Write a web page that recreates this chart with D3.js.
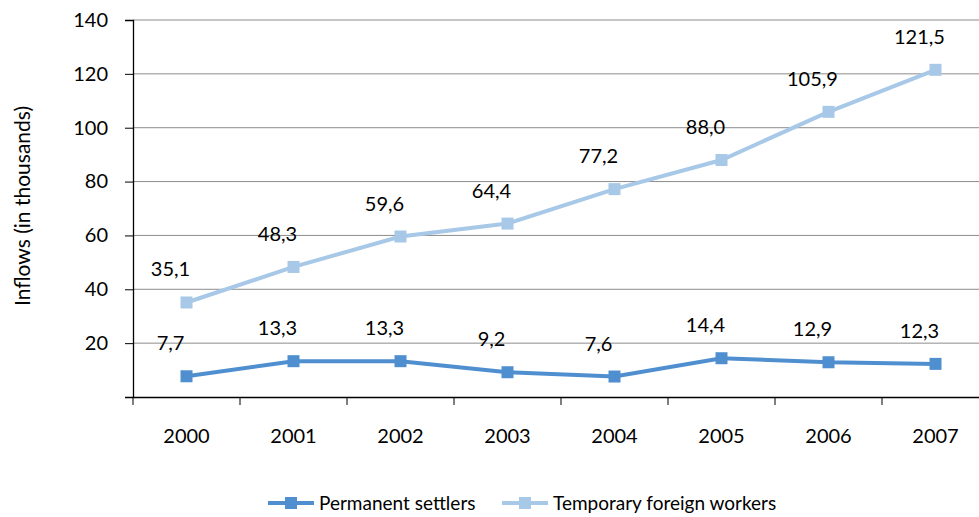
<!DOCTYPE html>
<html><head><meta charset="utf-8">
<script src="https://cdn.jsdelivr.net/npm/d3@7"></script>
<style>body{margin:0;background:#fff}svg{display:block;font-family:Lato,"Open Sans",sans-serif}</style>
</head><body><svg id="c" width="979" height="517"></svg>
<script>
const years = ["2000","2001","2002","2003","2004","2005","2006","2007"];
const permanent = [7.7,13.3,13.3,9.2,7.6,14.4,12.9,12.3];
const temporary = [35.1,48.3,59.6,64.4,77.2,88.0,105.9,121.5];
const yTicks = [0,20,40,60,80,100,120,140];
const seriesNames = ["Permanent settlers","Temporary foreign workers"];
const colors = ["#4F8FD0","#A8C8E8"];

(function(){
const svg = d3.select("#c");
const pL=133, pR=989, pT=20, pB=397;
const x = d3.scaleBand().domain(years).range([pL,pR]);
const y = d3.scaleLinear().domain([0,140]).range([pB,pT]);
const fmt = v => v.toFixed(1).replace(".",",");

// gridlines
svg.append("g").selectAll("line").data(yTicks.filter(d=>d>0)).join("line")
  .attr("x1",pL).attr("x2",979).attr("y1",d=>y(d)).attr("y2",d=>y(d))
  .attr("stroke","#8c8c8c").attr("stroke-width",1);

// y axis
const ya = svg.append("g").attr("transform",`translate(${pL},0)`)
  .call(d3.axisLeft(y).tickValues(yTicks).tickSize(8).tickPadding(17).tickFormat(d=>d===0?"":d));
ya.select(".domain").attr("stroke","#000").attr("stroke-width",1.3);
ya.selectAll(".tick line").attr("stroke","#000");
ya.selectAll("text").attr("font-size",20).attr("fill","#000").attr("font-family","Lato,sans-serif");

// x axis
const xa = svg.append("g").attr("transform",`translate(0,${pB})`)
  .call(d3.axisBottom(x).tickSize(0).tickPadding(32));
xa.select(".domain").attr("stroke","#000").attr("stroke-width",1.3);
xa.selectAll("text").attr("font-size",20).attr("fill","#000").attr("font-family","Lato,sans-serif");
const bounds = years.map(d=>x(d)).concat([pR]);
svg.append("g").selectAll("line").data(bounds).join("line")
  .attr("x1",d=>d).attr("x2",d=>d).attr("y1",pB).attr("y2",pB+8)
  .attr("stroke","#000").attr("stroke-width",1);

// y title
svg.append("text").attr("transform","translate(30,206) rotate(-90)")
  .attr("text-anchor","middle").attr("font-size",21).text("Inflows (in thousands)");

const cx = d => x(d)+x.bandwidth()/2;
[temporary, permanent].forEach((vals,i)=>{
  const col = i===0?colors[1]:colors[0];
  const data = years.map((yr,j)=>({yr,v:vals[j]}));
  svg.append("path").datum(data)
    .attr("d",d3.line().x(d=>cx(d.yr)).y(d=>y(d.v)))
    .attr("fill","none").attr("stroke",col).attr("stroke-width",4);
  svg.append("g").selectAll("rect").data(data).join("rect")
    .attr("x",d=>cx(d.yr)-6).attr("y",d=>y(d.v)-6).attr("width",12).attr("height",12)
    .attr("fill",col);
  svg.append("g").selectAll("text").data(data).join("text")
    .attr("x",d=>cx(d.yr)-16).attr("y",d=>y(d.v)-26)
    .attr("text-anchor","middle").attr("font-size",20).attr("fill","#000")
    .text(d=>fmt(d.v));
});

// legend
const leg = [{n:seriesNames[0],c:colors[0],x1:268},{n:seriesNames[1],c:colors[1],x1:502}];
leg.forEach(l=>{
  const g = svg.append("g");
  g.append("line").attr("x1",l.x1).attr("x2",l.x1+46).attr("y1",503).attr("y2",503)
    .attr("stroke",l.c).attr("stroke-width",4);
  g.append("rect").attr("x",l.x1+17).attr("y",497).attr("width",12).attr("height",12).attr("fill",l.c);
  g.append("text").attr("x",l.x1+51).attr("y",510).attr("font-size",19).text(l.n);
});
})();
</script></body></html>
